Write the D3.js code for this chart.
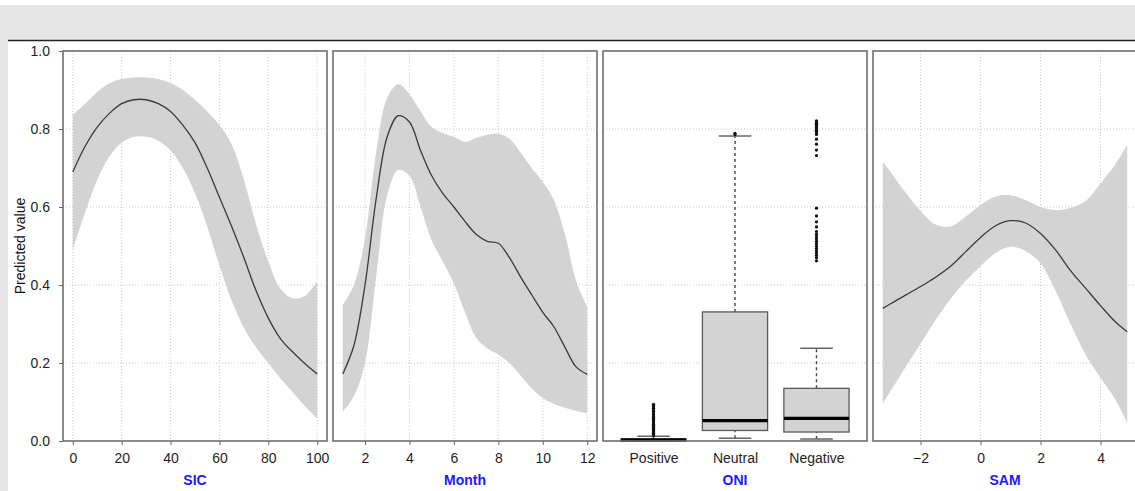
<!DOCTYPE html>
<html lang="en">
<head>
<meta charset="UTF-8">
<title>Predicted value by SIC, Month, ONI and SAM</title>
<script src="https://d3js.org/d3.v7.min.js"></script>
<style>
  body { margin: 0; background: #fff; }
  text { font-family: "Liberation Sans", Arial, sans-serif; }
</style>
</head>
<body>
<svg id="chart" width="1135" height="491"></svg>
<script>
// ---- data ----
const yTicks = [0, 0.2, 0.4, 0.6, 0.8, 1.0];

// SIC smooth
const sicX     = [0, 5, 10, 15, 20, 25, 30, 35, 40, 45, 50, 55, 60, 65, 70, 75, 80, 85, 90, 95, 100];
const sicFit   = [0.69, 0.755, 0.805, 0.84, 0.865, 0.875, 0.875, 0.865, 0.845, 0.81, 0.765, 0.70, 0.625, 0.55, 0.47, 0.385, 0.315, 0.262, 0.228, 0.198, 0.172];
const sicUpper = [0.836, 0.865, 0.895, 0.917, 0.928, 0.932, 0.932, 0.928, 0.918, 0.90, 0.875, 0.845, 0.81, 0.76, 0.67, 0.555, 0.46, 0.39, 0.366, 0.372, 0.41];
const sicLower = [0.49, 0.585, 0.67, 0.73, 0.765, 0.78, 0.78, 0.77, 0.745, 0.70, 0.635, 0.55, 0.45, 0.36, 0.29, 0.24, 0.20, 0.16, 0.125, 0.09, 0.058];
const sicTicks = [0, 20, 40, 60, 80, 100];

// Month smooth
const monthX     = [1, 1.5, 2, 2.5, 3, 3.5, 4, 4.5, 5, 5.5, 6, 6.5, 7, 7.5, 8, 8.5, 9, 9.5, 10, 10.5, 11, 11.5, 12];
const monthFit   = [0.172, 0.245, 0.40, 0.62, 0.78, 0.834, 0.818, 0.745, 0.68, 0.635, 0.60, 0.563, 0.53, 0.512, 0.507, 0.47, 0.421, 0.375, 0.33, 0.293, 0.24, 0.19, 0.171];
const monthUpper = [0.349, 0.40, 0.52, 0.74, 0.88, 0.915, 0.89, 0.845, 0.805, 0.79, 0.78, 0.767, 0.777, 0.785, 0.788, 0.775, 0.74, 0.70, 0.665, 0.618, 0.53, 0.41, 0.344];
const monthLower = [0.075, 0.115, 0.20, 0.42, 0.63, 0.695, 0.68, 0.60, 0.515, 0.46, 0.404, 0.33, 0.265, 0.238, 0.222, 0.20, 0.168, 0.135, 0.11, 0.095, 0.085, 0.077, 0.071];
const monthTicks = [2, 4, 6, 8, 10, 12];

// SAM smooth
const samX     = [-3.26, -3, -2.5, -2, -1.5, -1, -0.5, 0, 0.5, 1, 1.5, 2, 2.5, 3, 3.5, 4, 4.5, 4.89];
const samFit   = [0.34, 0.352, 0.374, 0.396, 0.42, 0.448, 0.485, 0.522, 0.552, 0.565, 0.559, 0.532, 0.49, 0.437, 0.392, 0.347, 0.305, 0.28];
const samUpper = [0.716, 0.69, 0.637, 0.59, 0.555, 0.55, 0.575, 0.605, 0.627, 0.63, 0.618, 0.60, 0.592, 0.598, 0.615, 0.66, 0.71, 0.759];
const samLower = [0.096, 0.128, 0.19, 0.25, 0.31, 0.365, 0.41, 0.448, 0.482, 0.498, 0.487, 0.455, 0.385, 0.30, 0.222, 0.162, 0.105, 0.047];
const samTicks = [-2, 0, 2, 4];

// ONI boxplot
const oniCategories = ["Positive", "Neutral", "Negative"];
const oniWhiskerLow  = [0.0, 0.007, 0.005];
const oniQ1          = [0.0, 0.027, 0.023];
const oniMedian      = [0.003, 0.052, 0.058];
const oniQ3          = [0.005, 0.331, 0.135];
const oniWhiskerHigh = [0.012, 0.782, 0.238];
const oniOutliersPositive = [0.014, 0.016, 0.018, 0.020, 0.022, 0.024, 0.026, 0.028, 0.030, 0.032, 0.034, 0.036, 0.038, 0.040, 0.043, 0.046, 0.049, 0.052, 0.055, 0.058, 0.061, 0.064, 0.068, 0.072, 0.076, 0.080, 0.084, 0.088, 0.091, 0.094];
const oniOutliersNeutral  = [0.786, 0.789];
const oniOutliersNegative = [0.821, 0.818, 0.815, 0.812, 0.809, 0.806, 0.803, 0.800, 0.797, 0.794, 0.790, 0.786, 0.774, 0.761, 0.746, 0.732,
                             0.597, 0.577, 0.562, 0.549, 0.537, 0.530, 0.524, 0.518, 0.512, 0.506, 0.500, 0.494, 0.488, 0.482, 0.476, 0.470, 0.462];

// ---- layout ----
const svg = d3.select('#chart');
const panelTop = 51, panelBottom = 441, panelWidth = 264;
const gridColor = '#c9c9c9', borderColor = '#6f6f6f', bandColor = '#d3d3d3';
const smoothCurve = d3.curveCatmullRom.alpha(0.5);

// grey frame of the figure
svg.append('rect').attr('x', 0).attr('y', 5).attr('width', 1135).attr('height', 35).attr('fill', '#e6e6e6');
svg.append('rect').attr('x', 0).attr('y', 5).attr('width', 8).attr('height', 486).attr('fill', '#e6e6e6');
svg.append('line').attr('x1', 8).attr('x2', 1135).attr('y1', 40.5).attr('y2', 40.5)
    .attr('stroke', '#222').attr('stroke-width', 1.5);

const y = d3.scaleLinear().domain([0, 1]).range([panelBottom, panelTop]);

function hGrid(g, x0, x1) {
    g.selectAll('.hgrid').data([0.2, 0.4, 0.6, 0.8, 1.0]).enter().append('line')
        .attr('x1', x0).attr('x2', x1)
        .attr('y1', d => y(d)).attr('y2', d => y(d))
        .attr('stroke', gridColor).attr('stroke-dasharray', '1,2');
}

function styleAxis(g, size) {
    g.select('.domain').remove();
    g.selectAll('.tick line').attr('stroke', '#666');
    g.selectAll('.tick text').attr('fill', '#1e1e1e').style('font-size', size + 'px');
}

function panelFrame(left, title) {
    svg.append('rect')
        .attr('x', left).attr('y', panelTop)
        .attr('width', panelWidth).attr('height', panelBottom - panelTop)
        .attr('fill', 'none').attr('stroke', borderColor).attr('stroke-width', 1.6);
    svg.append('text')
        .attr('x', left + panelWidth / 2).attr('y', 485)
        .attr('text-anchor', 'middle')
        .attr('fill', '#1a1aff').style('font-weight', 'bold').style('font-size', '14px')
        .text(title);
}

// smooth-term panels
const smoothPanels = [
    { left: 63,  domain: [-4, 104],       xs: sicX,   fit: sicFit,   upper: sicUpper,   lower: sicLower,   ticks: sicTicks,   title: 'SIC' },
    { left: 333, domain: [0.56, 12.44],   xs: monthX, fit: monthFit, upper: monthUpper, lower: monthLower, ticks: monthTicks, title: 'Month' },
    { left: 873, domain: [-3.586, 5.216], xs: samX,   fit: samFit,   upper: samUpper,   lower: samLower,   ticks: samTicks,   title: 'SAM' }
];

smoothPanels.forEach(p => {
    const x = d3.scaleLinear().domain(p.domain).range([p.left, p.left + panelWidth]);
    const g = svg.append('g');
    const rows = p.xs.map((v, i) => ({ x: v, fit: p.fit[i], hi: p.upper[i], lo: p.lower[i] }));

    hGrid(g, p.left, p.left + panelWidth);
    g.selectAll('.vgrid').data(p.ticks).enter().append('line')
        .attr('x1', d => x(d)).attr('x2', d => x(d))
        .attr('y1', panelTop).attr('y2', panelBottom)
        .attr('stroke', gridColor).attr('stroke-dasharray', '1,2');

    const band = d3.area()
        .x(d => x(d.x)).y0(d => y(d.lo)).y1(d => y(d.hi))
        .curve(smoothCurve);
    g.append('path').datum(rows).attr('d', band).attr('fill', bandColor);

    const line = d3.line().x(d => x(d.x)).y(d => y(d.fit)).curve(smoothCurve);
    g.append('path').datum(rows).attr('d', line)
        .attr('fill', 'none').attr('stroke', '#3a3a3a').attr('stroke-width', 1.3);

    svg.append('g')
        .attr('transform', `translate(0,${panelBottom})`)
        .call(d3.axisBottom(x).tickValues(p.ticks).tickFormat(d3.format('d')).tickSize(4).tickPadding(8))
        .call(g => styleAxis(g, 14));

    panelFrame(p.left, p.title);
});

// ONI boxplot panel
const oniLeft = 603;
const xo = d3.scaleLinear().domain([0.38, 3.62]).range([oniLeft, oniLeft + panelWidth]);
const boxHalf = 0.4, capHalf = 0.2;
const oniG = svg.append('g');
hGrid(oniG, oniLeft, oniLeft + panelWidth);

const boxes = oniCategories.map((c, i) => ({
    pos: i + 1, lo: oniWhiskerLow[i], q1: oniQ1[i], med: oniMedian[i], q3: oniQ3[i], hi: oniWhiskerHigh[i],
    out: [oniOutliersPositive, oniOutliersNeutral, oniOutliersNegative][i]
}));

boxes.forEach(b => {
    const bg = oniG.append('g');
    // whiskers
    [[b.q3, b.hi], [b.lo, b.q1]].forEach(([a, z]) => {
        bg.append('line').attr('x1', xo(b.pos)).attr('x2', xo(b.pos))
            .attr('y1', y(a)).attr('y2', y(z))
            .attr('stroke', '#444').attr('stroke-width', 1.4).attr('stroke-dasharray', '3,3');
    });
    [b.hi, b.lo].forEach(v => {
        bg.append('line').attr('x1', xo(b.pos - capHalf)).attr('x2', xo(b.pos + capHalf))
            .attr('y1', y(v)).attr('y2', y(v))
            .attr('stroke', '#666').attr('stroke-width', 1.5);
    });
    bg.append('rect')
        .attr('x', xo(b.pos - boxHalf)).attr('width', xo(b.pos + boxHalf) - xo(b.pos - boxHalf))
        .attr('y', y(b.q3)).attr('height', Math.max(0.5, y(b.q1) - y(b.q3)))
        .attr('fill', bandColor).attr('stroke', '#5a5a5a').attr('stroke-width', 1.3);
    bg.append('line').attr('x1', xo(b.pos - boxHalf)).attr('x2', xo(b.pos + boxHalf))
        .attr('y1', y(b.med)).attr('y2', y(b.med))
        .attr('stroke', '#000').attr('stroke-width', 3.2);
    bg.selectAll('circle').data(b.out).enter().append('circle')
        .attr('cx', xo(b.pos)).attr('cy', d => y(d)).attr('r', 1.6)
        .attr('fill', '#111');
});

svg.append('g')
    .attr('transform', `translate(0,${panelBottom})`)
    .call(d3.axisBottom(xo).tickValues([1, 2, 3]).tickFormat(d => oniCategories[d - 1]).tickSize(0).tickPadding(12))
    .call(g => styleAxis(g, 14));
panelFrame(oniLeft, 'ONI');

// shared y axis
svg.append('g')
    .attr('transform', `translate(${smoothPanels[0].left},0)`)
    .call(d3.axisLeft(y).tickValues(yTicks).tickFormat(d3.format('.1f')).tickSize(4).tickPadding(9))
    .call(g => styleAxis(g, 14));

svg.append('text')
    .attr('transform', 'translate(25,246) rotate(-90)')
    .attr('text-anchor', 'middle')
    .attr('fill', '#111').style('font-size', '14px')
    .text('Predicted value');
</script>
</body>
</html>
